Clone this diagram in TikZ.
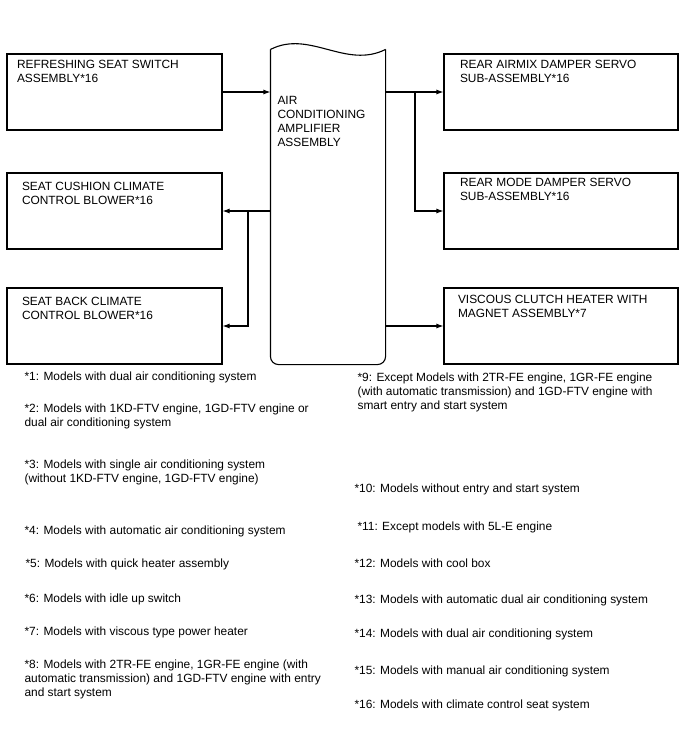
\documentclass[tikz,border=0pt]{standalone}
\usepackage{fontspec}
\setmainfont{Liberation Sans}
\usetikzlibrary{arrows.meta}

\begin{document}
\begin{tikzpicture}[x=1pt, y=-1pt, line width=1.1pt, every node/.style={font=\fontsize{11.9}{14}\selectfont, inner sep=0pt}, box/.style={draw, rectangle, minimum height=76pt}, lbl/.style={anchor=north west, align=left}, note/.style={anchor=north west, align=left}, arr/.style={-{Latex[length=7pt,width=5pt]}}]
	\useasboundingbox (0,0) rectangle (688,755);
	\node[box, minimum width=215pt] (refresh) at (114.5,92) {}; \node[box, minimum width=215pt] (cushion) at (114.5,211) {}; \node[box, minimum width=215pt] (back) at (114.5,326) {};
	\node[box, minimum width=234pt] (airmix) at (561,92) {}; \node[box, minimum width=234pt] (mode) at (561,211) {}; \node[box, minimum width=234pt] (viscous) at (561,326) {};
	\foreach \n/\dx/\dy/\t in {refresh/10/6/{REFRESHING SEAT SWITCH\\ASSEMBLY*16}, cushion/15/9/{SEAT CUSHION CLIMATE\\CONTROL BLOWER*16}, back/15/9/{SEAT BACK CLIMATE\\CONTROL BLOWER*16}, airmix/16/6/{REAR AIRMIX DAMPER SERVO\\SUB-ASSEMBLY*16}, mode/16/5/{REAR MODE DAMPER SERVO\\SUB-ASSEMBLY*16}, viscous/14/7/{VISCOUS CLUTCH HEATER WITH\\MAGNET ASSEMBLY*7}} {\node[lbl] (\n-t) at ([xshift=\dx pt, yshift=-\dy pt]\n.north west) {\t};}
	\node[minimum width=114pt, minimum height=314pt] (amp) at (328,207) {};
	\draw (amp.north west) .. controls +(39,-20) and +(-40,20) .. (amp.north east);
	\draw[rounded corners=8pt] (amp.north east) -- (amp.south east) -- (amp.south west) -- (amp.north west);
	\node[lbl] (amp-t) at (277,96) {AIR\\CONDITIONING\\AMPLIFIER\\ASSEMBLY};
	\draw[arr] (refresh.east) -- (refresh.east -| amp.west);
	\draw[arr] (amp.east |- airmix.west) -- (airmix.west);
	\coordinate (rbr) at (415,92); \draw[arr] (rbr) |- (mode.west);
	\draw[arr] (amp.west |- cushion.east) -- (cushion.east);
	\coordinate (lbr) at (248,211); \draw[arr] (lbr) |- (back.east);
	\draw[arr] (amp.east |- viscous.west) -- (viscous.west);
	\foreach \n/\x/\y/\t in {n1/24/371/{*1: Models with dual air conditioning system}, n2/24/403/{*2: Models with 1KD-FTV engine, 1GD-FTV engine or\\dual air conditioning system}, n3/24/459/{*3: Models with single air conditioning system\\(without 1KD-FTV engine, 1GD-FTV engine)}, n4/24/525/{*4: Models with automatic air conditioning system}, n5/25/558/{*5: Models with quick heater assembly}, n6/24/593/{*6: Models with idle up switch}, n7/24/626/{*7: Models with viscous type power heater}, n8/24/659/{*8: Models with 2TR-FE engine, 1GR-FE engine (with\\automatic transmission) and 1GD-FTV engine with entry\\and start system}} {\node[note] (\n) at (\x,\y) {\t};}
	\foreach \n/\x/\y/\t in {n9/357/372/{*9: Except Models with 2TR-FE engine, 1GR-FE engine\\(with automatic transmission) and 1GD-FTV engine with\\smart entry and start system}, n10/354/483/{*10: Models without entry and start system}, n11/357/521/{*11: Except models with 5L-E engine}, n12/354/558/{*12: Models with cool box}, n13/354/594/{*13: Models with automatic dual air conditioning system}, n14/354/628/{*14: Models with dual air conditioning system}, n15/354/665/{*15: Models with manual air conditioning system}, n16/354/699/{*16: Models with climate control seat system}} {\node[note] (\n) at (\x,\y) {\t};}
\end{tikzpicture}
\end{document}
